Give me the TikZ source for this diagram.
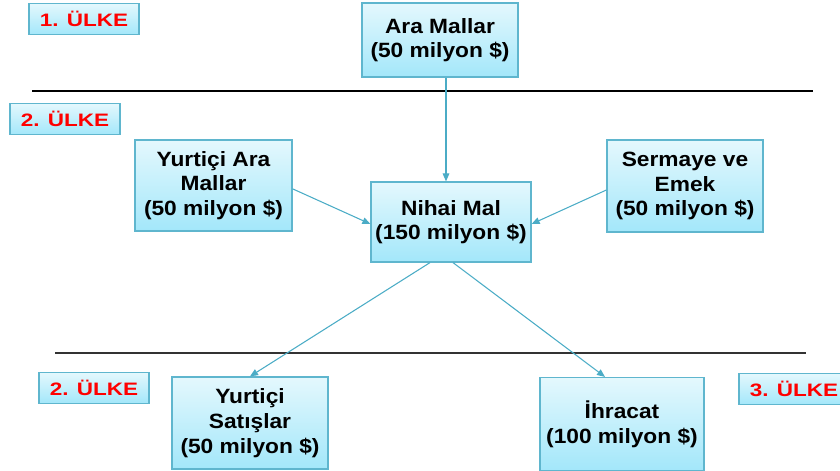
\documentclass[tikz,border=0pt]{standalone}
\usepackage{fontspec}
\usepackage{xcolor}
\usepackage{tikz}
\usetikzlibrary{shapes,arrows,positioning,calc,arrows.meta}

\newfontfamily\boxfont[FakeStretch=1.1]{Liberation Sans}
\newfontfamily\tagfont[FakeStretch=1.25]{Liberation Sans}

\definecolor{boxtop}{HTML}{E4F8FD}
\definecolor{boxbot}{HTML}{A3E7FA}
\definecolor{boxline}{HTML}{5FB6CE}
\definecolor{flowline}{HTML}{4BACC6}

\tikzset{
    stagebox/.style={
        draw=boxline,
        line width=0.9pt,
        top color=boxtop,
        bottom color=boxbot,
        align=center,
        inner sep=0pt,
        font=\boxfont\bfseries\fontsize{15.5}{18.5}\selectfont
    },
    countrytag/.style={
        draw=boxline,
        line width=0.9pt,
        top color=boxtop,
        bottom color=boxbot,
        text=red,
        inner sep=0pt,
        minimum width=82.5pt,
        minimum height=23.5pt,
        font=\tagfont\bfseries\fontsize{13.5}{16}\selectfont
    },
    flow/.style={
        draw=flowline,
        line width=0.8pt,
        -{Triangle[length=6pt,width=5pt]}
    }
}

\begin{document}
\begin{tikzpicture}[x=0.75pt,y=-0.75pt]
    \useasboundingbox (0,0) rectangle (840,471);

    % country tags
    \node[countrytag] (tagA) at (84,19) {1. ÜLKE};
    \node[countrytag] (tagB) at (65,119) {2. ÜLKE};
    \node[countrytag, minimum height=23pt] (tagC) at (94,388) {2. ÜLKE};
    \node[countrytag] (tagD) at (794,389) {3. ÜLKE};

    % boxes
    \node[stagebox, minimum width=117pt, minimum height=55.5pt] (ara) at (440,40)
        {Ara Mallar\\(50 milyon \$)};
    \node[stagebox, minimum width=117.75pt, minimum height=68.25pt] (yurtara) at (213.5,185.5)
        {Yurtiçi Ara\\Mallar\\(50 milyon \$)};
    \node[stagebox, minimum width=120pt, minimum height=60pt] (nihai) at (451,222)
        {Nihai Mal\\(150 milyon \$)};
    \node[stagebox, minimum width=117pt, minimum height=69pt] (sermaye) at (685,186)
        {Sermaye ve\\Emek\\(50 milyon \$)};
    \node[stagebox, minimum width=117pt, minimum height=69pt] (satis) at (250,423)
        {Yurtiçi\\Satışlar\\(50 milyon \$)};
    \node[stagebox, minimum width=123pt, minimum height=69.75pt] (ihracat) at (622,424)
        {İhracat\\(100 milyon \$)};

    % borders between countries
    \draw[line width=1.1pt] (32,91) -- (813,91);
    \draw[line width=1.1pt, color=black!80] (55,353) -- (806,353);

    % flows
    \draw[flow] ([xshift=4.5pt]ara.south) -- ([xshift=-3.75pt]nihai.north);
    \draw[flow] ([yshift=-2.5pt]yurtara.east) -- ([yshift=-1.5pt]nihai.west);
    \draw[flow] ([yshift=-3pt]sermaye.west) -- ([yshift=-1.5pt]nihai.east);
    \draw[flow] ([xshift=-15.75pt]nihai.south) -- (satis.north);
    \draw[flow] ([xshift=1.5pt]nihai.south) -- ([xshift=-12.75pt]ihracat.north);
\end{tikzpicture}
\end{document}
